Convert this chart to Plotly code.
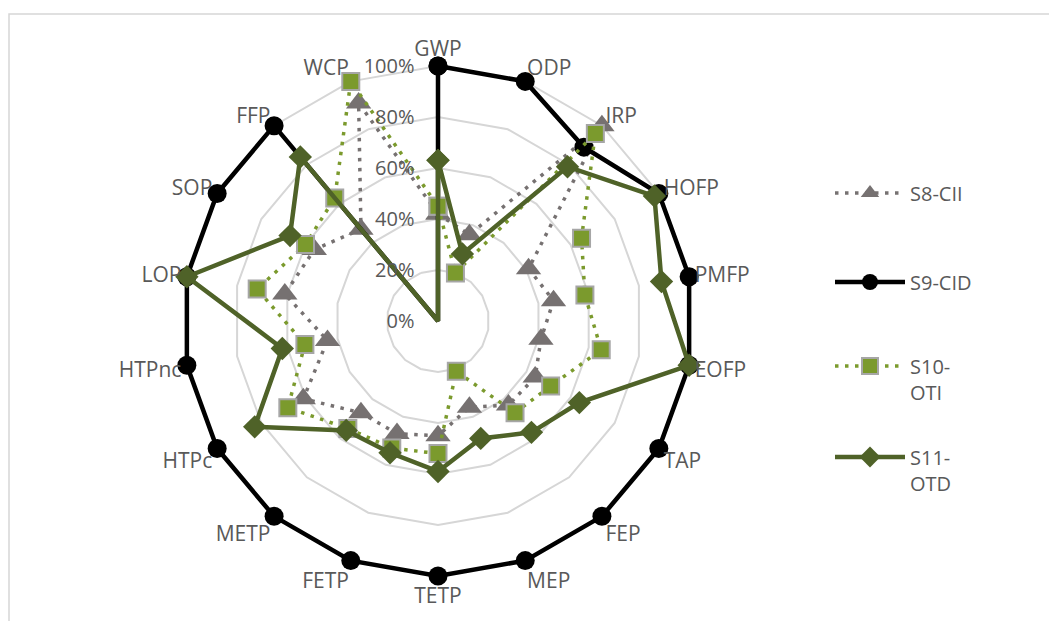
import plotly.graph_objects as go

# impact categories, clockwise from the top
categories = ["GWP", "ODP", "IRP", "HOFP", "PMFP", "EOFP", "TAP", "FEP", "MEP",
              "TETP", "FETP", "METP", "HTPc", "HTPnc", "LOP", "SOP", "FFP", "WCP"]

# normalised scores (share of the max scenario)
s8_cii = [0.42, 0.36, 1.00, 0.41, 0.46, 0.41, 0.44, 0.43, 0.36,
          0.45, 0.47, 0.47, 0.61, 0.44, 0.61, 0.56, 0.47, 0.91]
s9_cid = [1.00, 1.00, 0.89, 1.00, 1.00, 1.00, 1.00, 1.00, 1.00,
          1.00, 1.00, 1.00, 1.00, 1.00, 1.00, 1.00, 1.00, 0.00]
s10_oti = [0.45, 0.20, 0.96, 0.65, 0.585, 0.65, 0.51, 0.47, 0.21,
           0.52, 0.53, 0.55, 0.68, 0.53, 0.72, 0.60, 0.63, 1.00]
s11_otd = [0.63, 0.28, 0.79, 0.98, 0.89, 1.00, 0.64, 0.57, 0.49,
           0.59, 0.55, 0.56, 0.83, 0.62, 1.00, 0.67, 0.84, 0.00]

W, H = 1057, 621
OFF = 8  # page body margin
FONT = "Open Sans"
TXT = "#595959"
GRID = "#d6d6d6"
RMAX = 1.02  # a bit past 100% so lines on the outer ring are not clipped


def closed(vals):
    return list(vals) + [vals[0]]


def px_x(x):
    return (x - OFF) / W


def px_y(y):
    return 1 - (y - OFF) / H


theta = closed(categories)

fig = go.Figure()
fig.add_trace(go.Scatterpolar(
    r=closed(s8_cii), theta=theta, name="S8-CII", mode="lines+markers",
    line=dict(color="#767171", width=3.5, dash="3.5px,6.5px"),
    marker=dict(symbol="triangle-up", size=22, color="#767171"),
    legend="legend"))
fig.add_trace(go.Scatterpolar(
    r=closed(s9_cid), theta=theta, name="S9-CID", mode="lines+markers",
    line=dict(color="#000000", width=4.5),
    marker=dict(symbol="circle", size=19, color="#000000"),
    legend="legend2"))
fig.add_trace(go.Scatterpolar(
    r=closed(s10_oti), theta=theta, name="S10-<br>OTI", mode="lines+markers",
    line=dict(color="#7b9a2d", width=3.5, dash="3.5px,6.5px"),
    marker=dict(symbol="square", size=17, color="#7b9a2d",
                line=dict(color="#a6a6a6", width=2)),
    legend="legend3"))
fig.add_trace(go.Scatterpolar(
    r=closed(s11_otd), theta=theta, name="S11-<br>OTD", mode="lines+markers",
    line=dict(color="#4f6228", width=4.5),
    marker=dict(symbol="diamond", size=18, color="#4f6228"),
    legend="legend4"))

cx, cy, R = 438, 321, 255 * RMAX


def leg(ymid):
    return dict(x=px_x(830), y=px_y(ymid), xanchor="left", yanchor="middle",
                valign="top", bgcolor="rgba(0,0,0,0)", itemwidth=70,
                font=dict(family=FONT, size=20, color=TXT))


fig.update_layout(
    width=W, height=H,
    margin=dict(l=0, r=0, t=0, b=0),
    paper_bgcolor="white",
    showlegend=True,
    font=dict(family=FONT, size=20, color=TXT),
    polar=dict(
        domain=dict(x=[px_x(cx - R), px_x(cx + R)],
                    y=[px_y(cy + R), px_y(cy - R)]),
        gridshape="linear",
        bgcolor="white",
        angularaxis=dict(rotation=90, direction="clockwise", showgrid=False,
                         showline=False, ticks="",
                         tickfont=dict(family=FONT, size=21, color=TXT)),
        radialaxis=dict(range=[0, RMAX], tickvals=[0, 0.2, 0.4, 0.6, 0.8, 1.0],
                        tickformat=".0%", angle=90,
                        side="counterclockwise", showline=False,
                        ticks="outside", ticklen=16, tickcolor="rgba(0,0,0,0)",
                        gridcolor=GRID, gridwidth=1.5, tickangle=90,
                        tickfont=dict(family=FONT, size=20, color=TXT)),
    ),
    legend=leg(193),
    legend2=leg(282),
    legend3=leg(379),
    legend4=leg(470),
    shapes=[dict(type="rect", xref="paper", yref="paper",
                 x0=px_x(9), x1=1.05, y0=-0.05, y1=px_y(14),
                 line=dict(color=GRID, width=1.5), layer="below")],
)

fig.write_html("out.html")
